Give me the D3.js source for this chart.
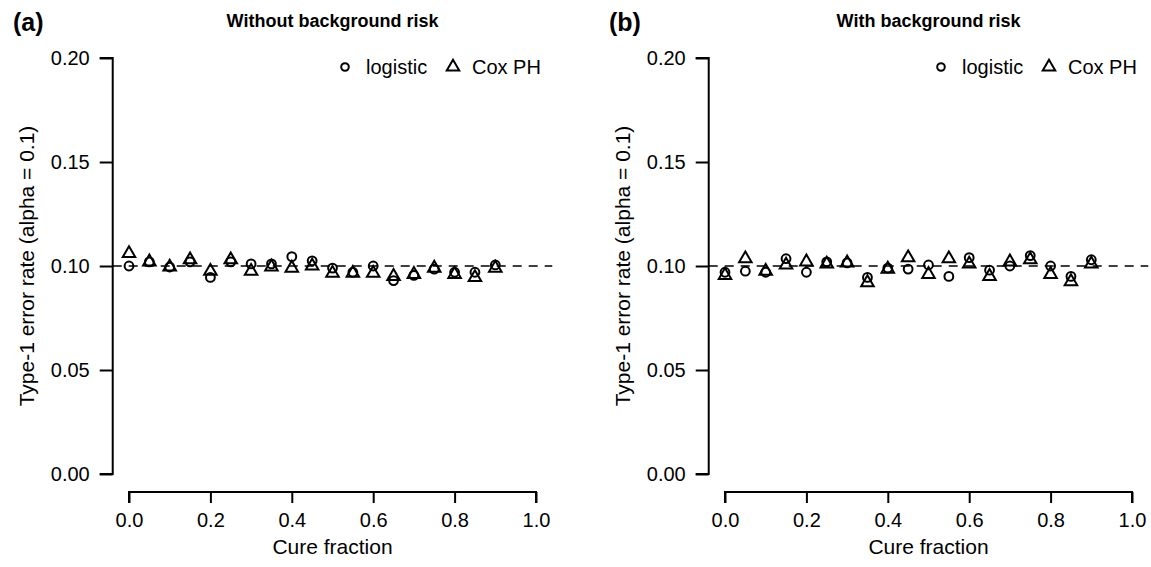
<!DOCTYPE html>
<html>
<head>
<meta charset="utf-8">
<script src="https://cdn.jsdelivr.net/npm/d3@7"></script>
<style>
  body { margin: 0; background: #fff; }
  text { font-family: "Liberation Sans", Arial, sans-serif; fill: #000; }
</style>
</head>
<body>
<svg id="svg" width="1151" height="567"></svg>
<script>
var svg = d3.select("#svg");

// cure fraction values
var cure = [0, 0.05, 0.1, 0.15, 0.2, 0.25, 0.3, 0.35, 0.4, 0.45, 0.5, 0.55, 0.6, 0.65, 0.7, 0.75, 0.8, 0.85, 0.9];

// panel (a) without background risk
var logisticA = [0.100, 0.102, 0.0995, 0.102, 0.0945, 0.102, 0.101, 0.101, 0.1045, 0.1025, 0.099, 0.097, 0.100, 0.093, 0.0955, 0.0985, 0.097, 0.097, 0.1005];
var coxA      = [0.1065, 0.1025, 0.100, 0.1035, 0.098, 0.1035, 0.098, 0.100, 0.0995, 0.1005, 0.097, 0.097, 0.097, 0.0955, 0.0965, 0.0995, 0.0965, 0.095, 0.0995];

// panel (b) with background risk
var logisticB = [0.097, 0.0975, 0.097, 0.1035, 0.097, 0.102, 0.1015, 0.0945, 0.099, 0.0985, 0.1005, 0.095, 0.104, 0.098, 0.100, 0.105, 0.100, 0.095, 0.103];
var coxB      = [0.096, 0.104, 0.098, 0.101, 0.1025, 0.1015, 0.102, 0.0925, 0.099, 0.1045, 0.0965, 0.104, 0.1015, 0.0955, 0.1025, 0.1035, 0.0965, 0.093, 0.1015];

var xTicks = [0, 0.2, 0.4, 0.6, 0.8, 1.0];
var yTicks = [0, 0.05, 0.10, 0.15, 0.20];
var alpha = 0.1;

var panels = [
  {tag: "(a)", title: "Without background risk", logistic: logisticA, cox: coxA, dx: 0},
  {tag: "(b)", title: "With background risk", logistic: logisticB, cox: coxB, dx: 596}
];

var triangle = d3.symbol().type(d3.symbolTriangle).size(68);

function drawPanel(p) {
  var g = svg.append("g").attr("transform", "translate(" + p.dx + ",0)");

  var x = d3.scaleLinear().domain([0, 1]).range([129, 536]);
  var y = d3.scaleLinear().domain([0, 0.2]).range([474, 58]);
  var left = x(-0.04), right = x(1.04);

  // y axis
  var yAxis = d3.axisLeft(y).tickValues(yTicks).tickFormat(d3.format(".2f")).tickSize(13).tickPadding(10);
  var ya = g.append("g").attr("transform", "translate(" + left + ",0)").call(yAxis);
  ya.select(".domain").attr("d", "M-13," + y(0.2) + "H0V" + y(0) + "H-13");

  // x axis
  var xAxis = d3.axisBottom(x).tickValues(xTicks).tickFormat(d3.format(".1f")).tickSize(11).tickPadding(10);
  var xa = g.append("g").attr("transform", "translate(0,492)").call(xAxis);
  xa.select(".domain").attr("d", "M" + x(0) + ",11V0H" + x(1) + "V11");

  g.selectAll(".domain, .tick line").attr("stroke", "#000").attr("stroke-width", 2);
  g.selectAll(".tick text").style("font-size", "20px").attr("fill", "#000");

  // reference line at alpha
  g.append("line")
    .attr("x1", left).attr("x2", right)
    .attr("y1", y(alpha)).attr("y2", y(alpha))
    .attr("stroke", "#000").attr("stroke-width", 1.7)
    .attr("stroke-dasharray", "9,7");

  // points
  g.selectAll("circle.logistic")
    .data(cure.map(function(c, i) { return [c, p.logistic[i]]; }))
    .enter().append("circle")
    .attr("class", "logistic")
    .attr("cx", function(d) { return x(d[0]); })
    .attr("cy", function(d) { return y(d[1]); })
    .attr("r", 4.4)
    .attr("fill", "none").attr("stroke", "#000").attr("stroke-width", 2);

  g.selectAll("path.cox")
    .data(cure.map(function(c, i) { return [c, p.cox[i]]; }))
    .enter().append("path")
    .attr("class", "cox")
    .attr("d", triangle)
    .attr("transform", function(d) { return "translate(" + x(d[0]) + "," + (y(d[1]) + 1) + ")"; })
    .attr("fill", "none").attr("stroke", "#000").attr("stroke-width", 2);

  // labels
  g.append("text").attr("x", 13).attr("y", 31)
    .style("font-size", "25px").style("font-weight", "bold").text(p.tag);

  g.append("text").attr("x", (left + right) / 2).attr("y", 27)
    .attr("text-anchor", "middle")
    .style("font-size", "18px").style("font-weight", "bold").text(p.title);

  g.append("text").attr("x", (left + right) / 2).attr("y", 554)
    .attr("text-anchor", "middle")
    .style("font-size", "21px").text("Cure fraction");

  g.append("text")
    .attr("transform", "translate(34," + y(0.1) + ") rotate(-90)")
    .attr("text-anchor", "middle")
    .style("font-size", "21px").text("Type-1 error rate (alpha = 0.1)");

  // legend
  var lg = g.append("g").attr("transform", "translate(345,67)");
  lg.append("circle").attr("cx", 0).attr("cy", 0).attr("r", 3.8)
    .attr("fill", "none").attr("stroke", "#000").attr("stroke-width", 2);
  lg.append("text").attr("x", 21).attr("y", 7).style("font-size", "20px").text("logistic");
  lg.append("path").attr("d", triangle).attr("transform", "translate(108,0)")
    .attr("fill", "none").attr("stroke", "#000").attr("stroke-width", 2);
  lg.append("text").attr("x", 127).attr("y", 7).style("font-size", "20px").text("Cox PH");
}

panels.forEach(drawPanel);
</script>
</body>
</html>
